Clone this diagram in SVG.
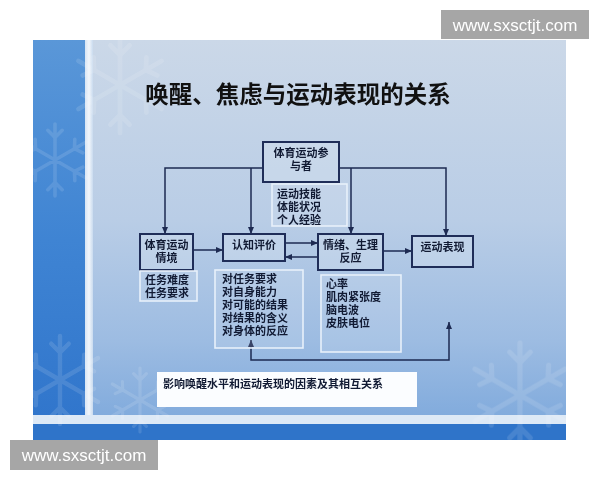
<svg xmlns="http://www.w3.org/2000/svg" width="600" height="480" viewBox="0 0 600 480">
  <defs>
    <linearGradient id="bgMain" x1="0" y1="0" x2="0" y2="1">
      <stop offset="0" stop-color="#cbd8e8"/>
      <stop offset="0.45" stop-color="#b9cde6"/>
      <stop offset="0.75" stop-color="#9dbce2"/>
      <stop offset="1" stop-color="#79a6db"/>
    </linearGradient>
    <linearGradient id="bgLeft" x1="0" y1="0" x2="0" y2="1">
      <stop offset="0" stop-color="#5a97d8"/>
      <stop offset="0.5" stop-color="#3f84d3"/>
      <stop offset="1" stop-color="#2f74cb"/>
    </linearGradient>
    <linearGradient id="bar" x1="0" y1="0" x2="1" y2="0">
      <stop offset="0" stop-color="#d6e4f4"/>
      <stop offset="0.5" stop-color="#f2f6fb"/>
      <stop offset="1" stop-color="#c9dbef"/>
    </linearGradient>
    <marker id="arr" markerUnits="userSpaceOnUse" markerWidth="7" markerHeight="6" refX="7" refY="3" orient="auto-start-reverse">
      <path d="M0,0 L7,3 L0,6 z" fill="#1d2a52"/>
    </marker>
    <g id="flake">
      <path d="M0,-40 V40 M-34.6,-20 L34.6,20 M-34.6,20 L34.6,-20 M0,-25 L-8,-33 M0,-25 L8,-33 M0,25 L-8,33 M0,25 L8,33 M21.6,-12.5 L22,-23 M21.6,-12.5 L31,-8 M-21.6,12.5 L-22,23 M-21.6,12.5 L-31,8 M21.6,12.5 L22,23 M21.6,12.5 L31,8 M-21.6,-12.5 L-22,-23 M-21.6,-12.5 L-31,-8"/>
    </g>
  </defs>
  <style>
    .box { fill: #dbe6f2; fill-opacity: 0.35; stroke: #1f2d58; stroke-width: 2; }
    .info { fill: #ffffff; fill-opacity: 0.12; stroke: #e8f1fb; stroke-width: 1.6; }
    .t { font-family: "Liberation Sans", "Noto Sans CJK SC", sans-serif; font-size: 11px; font-weight: bold; fill: #111a33; }
    .c { text-anchor: middle; }
    .line { fill: none; stroke: #1d2a52; stroke-width: 1.5; }
    .wm { fill: #a6a6a6; }
    .wmt { font-family: "Liberation Sans", Arial, sans-serif; font-size: 17px; fill: #ffffff; }
    .snow { stroke: #ffffff; stroke-width: 4; stroke-linecap: round; fill: none; }
  </style>

  <rect x="0" y="0" width="600" height="480" fill="#ffffff"/>

  <!-- slide background -->
  <rect x="33" y="40" width="533" height="400" fill="url(#bgMain)"/>
  <rect x="33" y="40" width="52" height="400" fill="url(#bgLeft)"/>
  <rect x="85" y="40" width="8" height="375" fill="url(#bar)"/>
  <rect x="33" y="415" width="533" height="9" fill="#dde9f6"/>
  <rect x="33" y="424" width="533" height="16" fill="#2f74c9"/>
  <g class="snow" opacity="0.12">
    <use href="#flake" transform="translate(120,85) scale(1.2)"/>
    <use href="#flake" transform="translate(55,160) scale(0.9)"/>
    <use href="#flake" transform="translate(60,380) scale(1.1)"/>
    <use href="#flake" transform="translate(520,395) scale(1.3)"/>
    <use href="#flake" transform="translate(140,400) scale(0.8)"/>
  </g>

  <!-- title -->
  <text x="298" y="103" text-anchor="middle" font-family="'Liberation Sans', 'Noto Sans CJK SC', sans-serif" font-size="23.5" font-weight="bold" fill="#111111">唤醒、焦虑与运动表现的关系</text>

  <!-- connectors -->
  <g id="connectors">
    <path class="line" d="M263,168 H165 V234" marker-end="url(#arr)"/>
    <path class="line" d="M251,168 V234" marker-end="url(#arr)"/>
    <path class="line" d="M339,168 H446 V236" marker-end="url(#arr)"/>
    <path class="line" d="M351,168 V234" marker-end="url(#arr)"/>
    <path class="line" d="M193,250 H223" marker-end="url(#arr)"/>
    <path class="line" d="M285,243 H318" marker-end="url(#arr)"/>
    <path class="line" d="M318,257 H285" marker-end="url(#arr)"/>
    <path class="line" d="M383,251 H412" marker-end="url(#arr)"/>
    <path class="line" d="M251,340 V360 H449 V322" marker-start="url(#arr)" marker-end="url(#arr)"/>
  </g>

  <!-- nodes -->
  <g id="participant">
    <rect class="box" x="263" y="142" width="76" height="40"/>
    <text class="t c" x="301" y="157">体育运动参</text>
    <text class="t c" x="301" y="170">与者</text>
  </g>
  <g id="participant-factors">
    <rect class="info" x="272" y="184" width="75" height="42"/>
    <text class="t" x="277" y="198">运动技能</text>
    <text class="t" x="277" y="211">体能状况</text>
    <text class="t" x="277" y="224">个人经验</text>
  </g>
  <g id="situation">
    <rect class="box" x="140" y="234" width="53" height="36"/>
    <text class="t c" x="166.5" y="249">体育运动</text>
    <text class="t c" x="166.5" y="262">情境</text>
  </g>
  <g id="situation-factors">
    <rect class="info" x="140" y="271" width="57" height="30"/>
    <text class="t" x="145" y="284">任务难度</text>
    <text class="t" x="145" y="297">任务要求</text>
  </g>
  <g id="appraisal">
    <rect class="box" x="223" y="234" width="62" height="27"/>
    <text class="t c" x="254" y="249">认知评价</text>
  </g>
  <g id="appraisal-factors">
    <rect class="info" x="215" y="270" width="88" height="78"/>
    <text class="t" x="222" y="283">对任务要求</text>
    <text class="t" x="222" y="296">对自身能力</text>
    <text class="t" x="222" y="309">对可能的结果</text>
    <text class="t" x="222" y="322">对结果的含义</text>
    <text class="t" x="222" y="335">对身体的反应</text>
  </g>
  <g id="emotion">
    <rect class="box" x="318" y="234" width="65" height="36"/>
    <text class="t c" x="350.5" y="249">情绪、生理</text>
    <text class="t c" x="350.5" y="262">反应</text>
  </g>
  <g id="emotion-factors">
    <rect class="info" x="321" y="275" width="80" height="77"/>
    <text class="t" x="326" y="288">心率</text>
    <text class="t" x="326" y="301">肌肉紧张度</text>
    <text class="t" x="326" y="314">脑电波</text>
    <text class="t" x="326" y="327">皮肤电位</text>
  </g>
  <g id="performance">
    <rect class="box" x="412" y="236" width="61" height="31"/>
    <text class="t c" x="442.5" y="251">运动表现</text>
  </g>
  <g id="caption">
    <rect x="157" y="372" width="260" height="35" fill="#fbfdff"/>
    <text class="t" x="163" y="388" font-size="12">影响唤醒水平和运动表现的因素及其相互关系</text>
  </g>

  <!-- watermarks -->
  <g id="watermark-top">
    <rect class="wm" x="441" y="10" width="148" height="29"/>
    <text class="wmt" x="515" y="31" text-anchor="middle">www.sxsctjt.com</text>
  </g>
  <g id="watermark-bottom">
    <rect class="wm" x="10" y="440" width="148" height="30"/>
    <text class="wmt" x="84" y="461" text-anchor="middle">www.sxsctjt.com</text>
  </g>
</svg>
